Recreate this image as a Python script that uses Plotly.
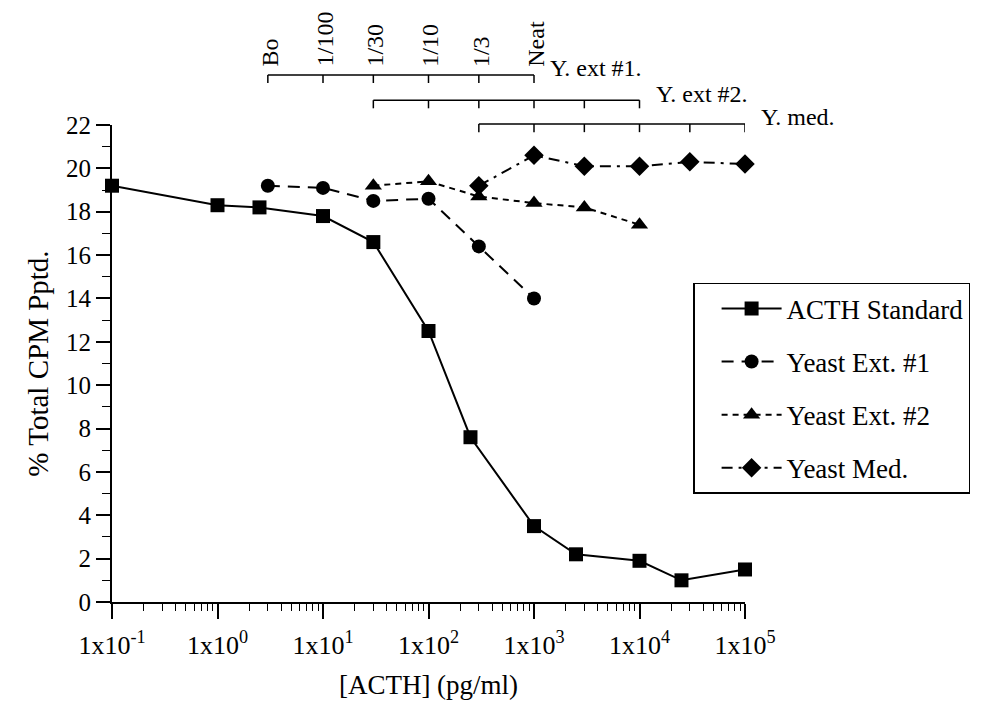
import numpy as np
import plotly.graph_objects as go

# ACTH radioimmunoassay: % total CPM precipitated vs ACTH concentration
acth_x = [0.1, 1, 2.5, 10, 30, 100, 250, 1000, 2500, 10000, 25000, 100000]
acth_y = [19.2, 18.3, 18.2, 17.8, 16.6, 12.5, 7.6, 3.5, 2.2, 1.9, 1.0, 1.5]

ext1_x = [3, 10, 30, 100, 300, 1000]
ext1_y = [19.2, 19.1, 18.5, 18.6, 16.4, 14.0]

ext2_x = [30, 100, 300, 1000, 3000, 10000]
ext2_y = [19.2, 19.4, 18.7, 18.4, 18.2, 17.4]

med_x = [300, 1000, 3000, 10000, 30000, 100000]
med_y = [19.2, 20.6, 20.1, 20.1, 20.3, 20.2]

dilution_labels = ["Bo", "1/100", "1/30", "1/10", "1/3", "Neat"]
bracket_names = ["Y. ext #1.", "Y. ext #2.", "Y. med."]

x_tickvals = [0.1, 1, 10, 100, 1000, 10000, 100000]
x_ticktext = ["1x10<sup>-1</sup>", "1x10<sup>0</sup>", "1x10<sup>1</sup>",
              "1x10<sup>2</sup>", "1x10<sup>3</sup>", "1x10<sup>4</sup>",
              "1x10<sup>5</sup>"]

FONT = "Liberation Serif"
INK = "black"

fig = go.Figure()

series = [
    ("ACTH Standard", acth_x, acth_y, "square", "solid", 14),
    ("Yeast Ext. #1", ext1_x, ext1_y, "circle", "12px,8px", 14),
    ("Yeast Ext. #2", ext2_x, ext2_y, "triangle-up", "6px,5px", 15),
    ("Yeast Med.", med_x, med_y, "diamond", "11px,6px,3px,6px", 15),
]
for i, (name, xs, ys, sym, dash, size) in enumerate(series):
    fig.add_trace(go.Scatter(
        x=xs, y=ys, name=name, mode="lines+markers",
        line=dict(color=INK, width=2, dash=dash),
        marker=dict(symbol=sym, size=size, color=INK),
        cliponaxis=False, legendgroup=f"g{i}",
    ))

# dilution brackets above the plot, one per sample series
bracket_rows = [(ext1_x, 1.105, 1.088), (ext2_x, 1.052, 1.035), (med_x, 1.002, 0.985)]
for xs, ytop, ybot in bracket_rows:
    fig.add_shape(type="line", xref="x", yref="paper", x0=xs[0], x1=xs[-1],
                  y0=ytop, y1=ytop, line=dict(color=INK, width=1.5))
    for xv in xs:
        fig.add_shape(type="line", xref="x", yref="paper", x0=xv, x1=xv,
                      y0=ytop, y1=ybot, line=dict(color=INK, width=1.5))

for xv, lab in zip(ext1_x, dilution_labels):
    fig.add_annotation(x=np.log10(xv), xref="x", y=1.118, yref="paper",
                       text=lab, textangle=-90, showarrow=False,
                       xanchor="center", yanchor="bottom", xshift=2,
                       font=dict(family=FONT, size=24, color=INK))

for (xs, ytop, _), lab in zip(bracket_rows, bracket_names):
    fig.add_annotation(x=np.log10(xs[-1]), xref="x", y=ytop + 0.014, yref="paper",
                       text=lab, showarrow=False, xanchor="left", yanchor="middle",
                       xshift=14, font=dict(family=FONT, size=24, color=INK))

minor_x = [m * 10.0 ** e for e in range(-1, 5) for m in range(2, 10)]

fig.update_xaxes(
    type="log", range=[-1, 5],
    tickmode="array", tickvals=x_tickvals, ticktext=x_ticktext,
    ticks="outside", ticklen=15, tickwidth=1.5, tickcolor=INK,
    showline=True, linecolor=INK, linewidth=2,
    showgrid=False, zeroline=False,
    minor=dict(tickmode="array", tickvals=minor_x, ticks="outside",
               ticklen=7, tickwidth=1.2, tickcolor=INK, showgrid=False),
    tickfont=dict(family=FONT, size=26, color=INK),
    ticklabelstandoff=4,
    title=dict(text="[ACTH] (pg/ml)", standoff=16,
               font=dict(family=FONT, size=27, color=INK)),
)
fig.update_yaxes(
    range=[0, 22], tickmode="linear", tick0=0, dtick=2,
    ticks="outside", ticklen=14, tickwidth=1.5, tickcolor=INK,
    showline=True, linecolor=INK, linewidth=2,
    showgrid=False, zeroline=False,
    minor=dict(dtick=1, ticks="outside", ticklen=8, tickwidth=1.2,
               tickcolor=INK, showgrid=False),
    tickfont=dict(family=FONT, size=25, color=INK),
    title=dict(text="% Total CPM Pptd.", standoff=9,
               font=dict(family=FONT, size=29, color=INK)),
)

fig.update_layout(
    width=994, height=706,
    margin=dict(l=112, r=249, t=125, b=104),
    paper_bgcolor="white", plot_bgcolor="white",
    showlegend=True,
    legend=dict(x=0.918, y=0.669, xanchor="left", yanchor="top",
                bgcolor="white", bordercolor=INK, borderwidth=1.5,
                font=dict(family=FONT, size=27, color=INK),
                tracegroupgap=15, itemwidth=60, indentation=22),
)

fig.write_html("out.html")
